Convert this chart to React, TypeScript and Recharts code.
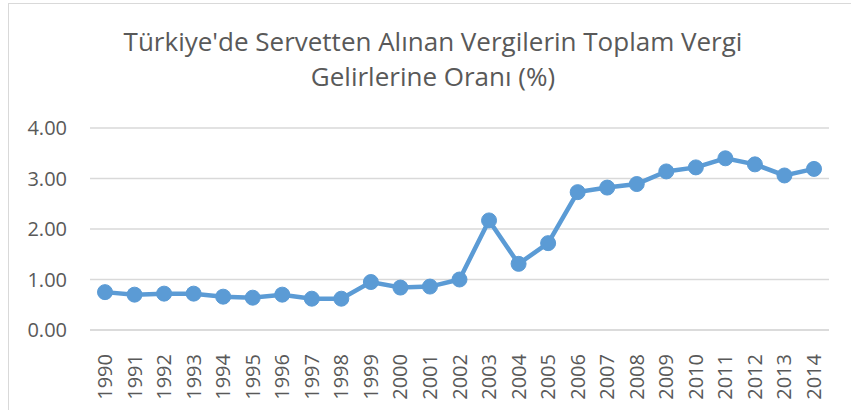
import { LineChart, Line, XAxis, YAxis, CartesianGrid } from "recharts";

const years = [
 "1990", "1991", "1992", "1993", "1994", "1995", "1996", "1997", "1998", "1999",
 "2000", "2001", "2002", "2003", "2004", "2005", "2006", "2007", "2008", "2009",
 "2010", "2011", "2012", "2013", "2014",
];

const ratios = [
 0.75, 0.70, 0.72, 0.72, 0.66, 0.64, 0.70, 0.62, 0.62, 0.95,
 0.84, 0.86, 1.00, 2.17, 1.31, 1.72, 2.73, 2.82, 2.89, 3.14,
 3.22, 3.40, 3.28, 3.06, 3.19,
];

const yTicks = [0, 1, 2, 3, 4];

const data = years.map((year, i) => ({ year, value: ratios[i] }));

const FONT = "'Open Sans', sans-serif";
const TEXT = "#595959";

function YearTick(props: any) {
 const { x, y, payload } = props;
 return (
  <text
   x={x}
   y={y + 16}
   transform={`rotate(-90, ${x}, ${y + 16})`}
   textAnchor="end"
   dy="0.35em"
   fill={TEXT}
   fontSize={20}
   fontFamily={FONT}
  >
   {payload.value}
  </text>
 );
}

export default function App() {
 return (
  <div style={{ position: "absolute", left: 0, top: 0, width: 851, height: 410, background: "#fff" }}>
   <div
    style={{
     position: "absolute",
     left: 8,
     top: 3,
     right: 0,
     bottom: 0,
     borderTop: "1px solid #d9d9d9",
     borderLeft: "1px solid #d9d9d9",
    }}
   />
   <div
    style={{
     position: "absolute",
     left: 0,
     top: 24,
     width: 866,
     textAlign: "center",
     fontFamily: FONT,
     fontSize: 26,
     lineHeight: "35px",
     color: TEXT,
    }}
   >
    Türkiye'de Servetten Alınan Vergilerin Toplam Vergi
    <br />
    Gelirlerine Oranı (%)
   </div>
   <div style={{ position: "absolute", left: 0, top: 0 }}>
    <LineChart
     width={851}
     height={410}
     data={data}
     margin={{ top: 128, right: 22, left: 0, bottom: 0 }}
    >
     <CartesianGrid vertical={false} stroke="#d9d9d9" strokeWidth={1.5} />
     <XAxis
      dataKey="year"
      height={80}
      interval={0}
      padding={{ left: 15, right: 15 }}
      axisLine={{ stroke: "#d9d9d9", strokeWidth: 1.5 }}
      tickLine={false}
      tick={<YearTick />}
     />
     <YAxis
      width={90}
      domain={[0, 4]}
      ticks={yTicks}
      axisLine={false}
      tickLine={false}
      tickSize={0}
      tickMargin={23}
      tickFormatter={(v: number) => v.toFixed(2)}
      tick={{ fill: TEXT, fontSize: 20, fontFamily: FONT }}
     />
     <Line
      type="linear"
      dataKey="value"
      stroke="#5b9bd5"
      strokeWidth={4.5}
      dot={{ r: 7.5, fill: "#5b9bd5", stroke: "#5b9bd5", strokeWidth: 1 }}
      isAnimationActive={false}
     />
    </LineChart>
   </div>
  </div>
 );
}
